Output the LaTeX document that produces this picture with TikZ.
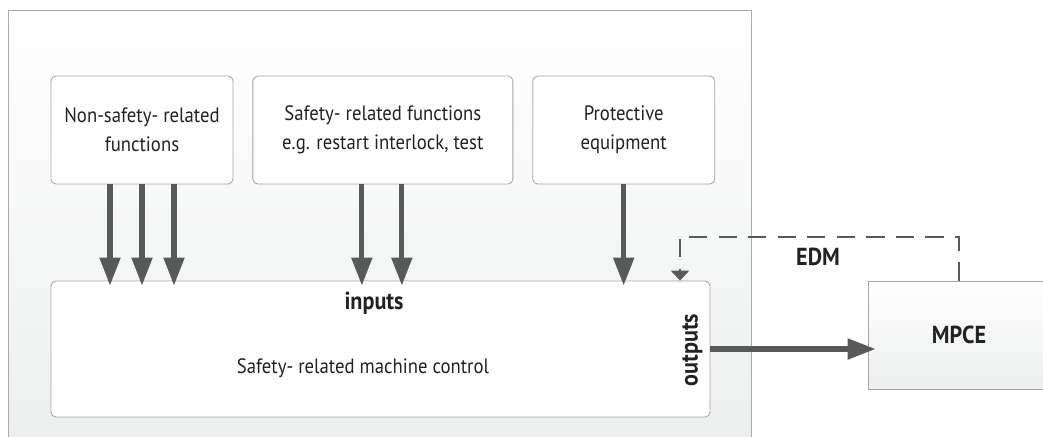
\documentclass[tikz,border=0pt]{standalone}
\usepackage{fontspec}
\setmainfont{PT Sans}[FakeStretch=0.9]
\usepackage{tikz}
\usetikzlibrary{arrows.meta,positioning,calc}
\definecolor{ink}{RGB}{34,34,34}
\definecolor{arrowgray}{RGB}{88,89,89}
\definecolor{framegray}{RGB}{170,170,170}
\definecolor{boxgray}{RGB}{165,165,165}
\definecolor{shadegray}{RGB}{236,238,238}
\tikzset{
  flow/.style={line width=3.6pt,arrowgray,-{Triangle[length=0.7cm,width=0.5cm]}},
  feedback/.style={line width=1.8pt,arrowgray,dash pattern=on 13pt off 8pt,
    -{Triangle[length=0.25cm,width=0.45cm]}},
  func/.style={draw=boxgray,fill=white,rounded corners=3.5pt,line width=0.6pt,
    minimum width=4.55cm,minimum height=2.7cm,align=center,text=ink,
    font=\fontsize{14.8}{20.6}\selectfont},
  ctrl/.style={draw=boxgray,fill=white,rounded corners=3.5pt,line width=0.6pt,
    minimum width=16.475cm,minimum height=3.4cm},
  lbl/.style={text=ink,font=\fontsize{14.8}{20.6}\selectfont},
  tag/.style={text=ink,font=\bfseries\fontsize{17.5}{20.6}\selectfont},
  ext/.style={draw=boxgray,line width=0.6pt,top color=white,bottom color=shadegray,
    minimum width=4.55cm,minimum height=2.7cm}
}
\begin{document}
\begin{tikzpicture}
  \useasboundingbox (0,0) rectangle (26.075,-10.9);
  % machine frame
  \draw[framegray,line width=0.6pt,top color=white,bottom color=shadegray]
    (0.2,-0.25) rectangle (18.775,-11.5);

  \node[func] (nsf) at (3.55,-3.25) {Non-safety- related\\functions};
  \node[func,right=0.475cm of nsf,minimum width=6.5cm] (srf)
    {Safety- related functions\\e.g. restart interlock, test};
  \node[func,right=0.475cm of srf] (prot) {Protective\\equipment};

  \node[ctrl] (main) at (9.5125,-8.725) {};
  \node[lbl] (ctrltext) at (9.075,-9.2) {Safety- related machine control};
  \node[tag] (inl) at (9.35,-7.575) {inputs};
  \node[tag,rotate=90] (outl) at (17.31,-8.75) {outputs};

  \node[ext,tag] (mpce) at (23.975,-8.375) {MPCE};

  % inputs
  \foreach \dx in {-0.8,0,0.8}
    \draw[flow,shorten >=-0.125cm] ([xshift=\dx cm]nsf.south) coordinate (t)
      -- (t |- main.north);
  \foreach \dx in {-0.525,0.475}
    \draw[flow,shorten >=-0.125cm] ([xshift=\dx cm]srf.south) coordinate (t)
      -- (t |- main.north);
  \draw[flow,shorten >=-0.125cm] (prot.south) -- (prot.south |- main.north);

  % outputs
  \draw[flow,shorten >=-0.2cm] (main.east) -- (main.east -| mpce.west);

  % EDM
  \coordinate (edmtop) at (17.0,-5.925);
  \draw[feedback] (mpce.north) |- (edmtop) -- (edmtop |- main.north);
  \node[tag] (edm) at (20.45,-6.425) {EDM};
\end{tikzpicture}
\end{document}
